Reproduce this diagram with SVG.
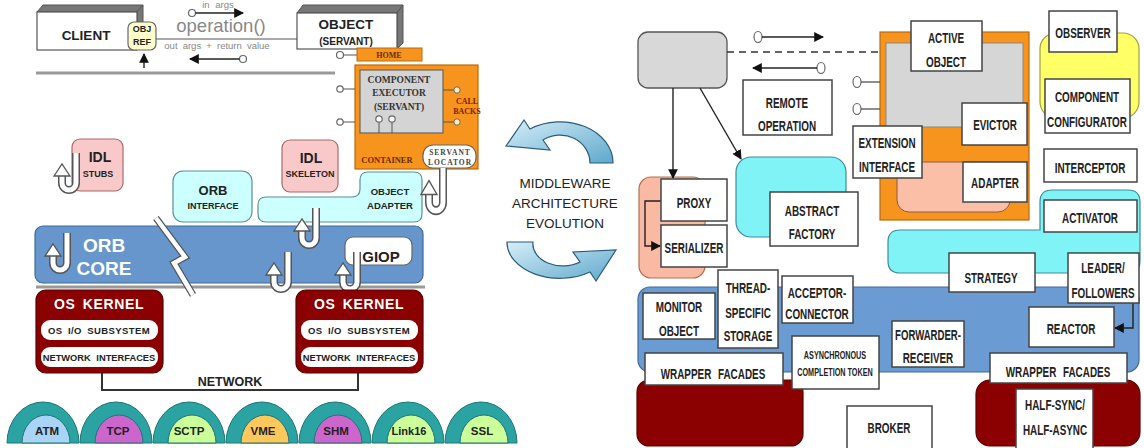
<svg xmlns="http://www.w3.org/2000/svg" width="1144" height="448" viewBox="0 0 1144 448">
<style>
.t{font-family:"Liberation Sans",Arial,sans-serif;font-weight:bold;text-anchor:middle;fill:#222}
.wt{font-family:"Liberation Sans",Arial,sans-serif;font-weight:bold;text-anchor:middle;fill:#fff}
.g{font-family:"Liberation Sans",Arial,sans-serif;text-anchor:middle;fill:#888}
.s{font-family:"Liberation Serif","Times New Roman",serif;font-weight:bold;text-anchor:middle}
.m{font-family:"Liberation Sans",Arial,sans-serif;font-size:13.5px;text-anchor:middle;fill:#222}
.rb{fill:#fff;stroke:#444;stroke-width:1.5}
.rt{font-family:"Liberation Sans",Arial,sans-serif;font-weight:bold;font-size:15px;text-anchor:middle;fill:#222}
.rs{font-family:"Liberation Sans",Arial,sans-serif;font-weight:bold;font-size:11px;text-anchor:middle;fill:#222}
.w{fill:#fff;stroke:#666;stroke-width:1.2}
.pink{fill:#f9c9c9;stroke:#a86a6a;stroke-width:1.2}
.cy{fill:#ccffff;stroke:#5f8f8f;stroke-width:1.2}
.ln{stroke:#222;stroke-width:1.4;fill:none}
.oc{fill:#fff;stroke:#666;stroke-width:1.2}
.dark{fill:#777;stroke:#555;stroke-width:1}
.ok{fill:#8b0000;stroke:#5a0000;stroke-width:1.2}
.dome{fill:#2ca3a3;stroke:#1d7575;stroke-width:1}
.ca{fill:url(#ag);stroke:#2a5c7a;stroke-width:1.2}
</style>
<defs>
<marker id="ah" viewBox="0 0 10 10" refX="9" refY="5" markerWidth="7" markerHeight="7" orient="auto-start-reverse"><path d="M0 0 L10 5 L0 10 Z" fill="#111"/></marker>
<linearGradient id="ag" x1="0" y1="0" x2="1" y2="1"><stop offset="0" stop-color="#d6eef8"/><stop offset="1" stop-color="#5ea8cc"/></linearGradient>
<g id="jh">
<path d="M0 0 V30 A7 7 0 0 1 -14 30 V22" fill="none" stroke="#555" stroke-width="8"/>
<path d="M0 0 V30 A7 7 0 0 1 -14 30 V22" fill="none" stroke="#fff" stroke-width="5"/>
<polygon points="-22,23 -14,11 -6,23" fill="#fff" stroke="#555" stroke-width="1.3"/>
</g>
</defs>
<rect width="1144" height="448" fill="#fff"/>

<!-- LEFT SIDE -->
<g id="connectors-left">
<line x1="156" y1="39" x2="297" y2="39" stroke="#555" stroke-width="1.2"/>
<line x1="144" y1="68" x2="144" y2="54" class="ln" marker-end="url(#ah)"/>
<circle cx="192" cy="13" r="3.5" class="oc"/>
<line x1="195.5" y1="13" x2="243" y2="13" class="ln" marker-end="url(#ah)"/>
<circle cx="243" cy="59" r="3.5" class="oc"/>
<line x1="239.5" y1="59" x2="190" y2="59" class="ln" marker-end="url(#ah)"/>
<line x1="36" y1="73" x2="335" y2="73" stroke="#999" stroke-width="3"/>
<line x1="36" y1="287" x2="425" y2="287" stroke="#999" stroke-width="3"/>
<polyline points="102,373 102,390 358,390 358,373" fill="none" stroke="#333" stroke-width="2"/>
</g>
<text class="g" x="218" y="8" font-size="9.5" word-spacing="3">in args</text>
<text class="g" x="221" y="32" font-size="18.5">operation()</text>
<text class="g" x="217" y="49" font-size="9.5" word-spacing="2.5">out args + return value</text>

<g id="client">
<polygon points="37,12 43,5 143,5 137,12" class="dark"/>
<polygon points="137,12 143,5 143,44 137,50" class="dark"/>
<rect x="37" y="12" width="100" height="38" fill="#fff" stroke="#555" stroke-width="1.2"/>
<text class="t" x="86" y="40" font-size="13.5">CLIENT</text>
</g>
<g id="objref">
<rect x="128" y="22" width="28" height="28" rx="6" fill="#ffffcc" stroke="#666" stroke-width="1.2"/>
<text class="t" x="142" y="32" font-size="9">OBJ</text>
<text class="t" x="142" y="45" font-size="9">REF</text>
</g>
<g id="object">
<polygon points="297,13 303,5 403,5 397,13" class="dark"/>
<polygon points="397,13 403,5 403,43 397,49" class="dark"/>
<rect x="297" y="13" width="100" height="36" fill="#fff" stroke="#555" stroke-width="1.2"/>
<text class="t" x="346" y="29" font-size="13.5">OBJECT</text>
<text class="t" x="346" y="45" font-size="10">(SERVANT)</text>
</g>
<g id="home">
<circle cx="340" cy="55" r="3.5" class="oc"/>
<line x1="343.5" y1="55" x2="357" y2="55" stroke="#555"/>
<rect x="357" y="48" width="65" height="13" fill="#f7941d" stroke="#b86a10"/>
<text class="s" x="389" y="58" font-size="8" fill="#6a2a00">HOME</text>
</g>
<g id="container">
<rect x="355" y="65" width="123" height="104" fill="#f7941d" stroke="#b86a10" stroke-width="1.2"/>
<rect x="360" y="70" width="83" height="63" fill="#d4d4d4" stroke="#666" stroke-width="1.2"/>
<text class="s" x="399" y="83" font-size="9.5" fill="#333">COMPONENT</text>
<text class="s" x="399" y="96" font-size="9.5" fill="#333">EXECUTOR</text>
<text class="s" x="399" y="110" font-size="9.5" fill="#333">(SERVANT)</text>
<line x1="379" y1="122" x2="379" y2="133" stroke="#555"/><circle cx="379" cy="119" r="3.2" class="oc"/>
<line x1="392" y1="122" x2="392" y2="133" stroke="#555"/><circle cx="392" cy="119" r="3.2" class="oc"/>
<line x1="443" y1="90" x2="454" y2="90" stroke="#555"/><circle cx="457" cy="90" r="3.2" fill="#ffe9b0" stroke="#666"/>
<line x1="443" y1="122" x2="454" y2="122" stroke="#555"/><circle cx="457" cy="122" r="3.2" fill="#ffe9b0" stroke="#666"/>
<text class="s" x="467" y="104" font-size="8" fill="#7a2200">CALL</text>
<text class="s" x="467" y="114" font-size="8" fill="#7a2200">BACKS</text>
<line x1="343" y1="89" x2="355" y2="89" stroke="#555"/><circle cx="340" cy="89" r="3.2" class="oc"/>
<line x1="343" y1="122" x2="355" y2="122" stroke="#555"/><circle cx="340" cy="122" r="3.2" class="oc"/>
<text class="s" x="387" y="163" font-size="8.5" fill="#6a2a00">CONTAINER</text>
</g>
<g id="servant-locator">
<rect x="423" y="145" width="53" height="23" rx="10" class="w"/>
<text class="s" x="450" y="155" font-size="7.5" fill="#444" letter-spacing="1">SERVANT</text>
<text class="s" x="450" y="165" font-size="7.5" fill="#444" letter-spacing="1">LOCATOR</text>
</g>
<g id="idl-stubs">
<rect x="72" y="139" width="51" height="52" rx="8" class="pink"/>
<text class="t" x="100" y="162" font-size="14">IDL</text>
<text class="t" x="98" y="177" font-size="9">STUBS</text>
</g>
<g id="idl-skeleton">
<rect x="282" y="140" width="56" height="52" rx="8" class="pink"/>
<text class="t" x="311" y="163" font-size="14">IDL</text>
<text class="t" x="310" y="177" font-size="9">SKELETON</text>
</g>
<g id="orb-interface">
<rect x="173" y="171" width="79" height="51" rx="10" class="cy"/>
<text class="t" x="213" y="195" font-size="13">ORB</text>
<text class="t" x="213" y="209" font-size="9">INTERFACE</text>
</g>
<g id="object-adapter">
<path d="M266 197 H352 Q360 197 360 189 V180 Q360 172 368 172 H414 Q422 172 422 180 V214 Q422 222 414 222 H266 Q258 222 258 214 V205 Q258 197 266 197 Z" class="cy"/>
<text class="t" x="390" y="195" font-size="9.5">OBJECT</text>
<text class="t" x="390" y="209" font-size="9.5">ADAPTER</text>
</g>
<g id="orb-core">
<rect x="35" y="226" width="388" height="57" rx="8" fill="#6696cc" stroke="#3f6a9c" stroke-width="1.2"/>
<text class="wt" x="104" y="252" font-size="19">ORB</text>
<text class="wt" x="104" y="275" font-size="19">CORE</text>
</g>
<polyline points="156,218 185,257 174,263 193,295" fill="none" stroke="#555" stroke-width="7"/>
<polyline points="156,218 185,257 174,263 193,295" fill="none" stroke="#fff" stroke-width="4.5"/>
<g id="giop">
<rect x="345" y="237" width="67" height="28" rx="8" class="w"/>
<text class="t" x="381" y="262" font-size="15" fill="#333">GIOP</text>
</g>
<g id="hooks">
<use href="#jh" transform="translate(76,153)"/>
<use href="#jh" transform="translate(67,233)"/>
<use href="#jh" transform="translate(316,208)"/>
<use href="#jh" transform="translate(288,252)"/>
<use href="#jh" transform="translate(357,252)"/>
<use href="#jh" transform="translate(443,168) scale(1,1.15)"/>
</g>
<g id="os-kernel-left">
<rect x="36" y="290" width="127" height="83" rx="10" class="ok"/>
<text class="wt" x="99" y="309" font-size="14" letter-spacing="0.6" word-spacing="3">OS KERNEL</text>
<rect x="41" y="320" width="117" height="20" rx="9" fill="#fff"/>
<text class="t" x="99" y="334" font-size="9.5" letter-spacing="0.4" word-spacing="2.5">OS I/O SUBSYSTEM</text>
<rect x="41" y="347" width="117" height="20" rx="9" fill="#fff"/>
<text class="t" x="99" y="361" font-size="9.3" word-spacing="3">NETWORK INTERFACES</text>
</g>
<g id="os-kernel-right">
<rect x="296" y="290" width="127" height="83" rx="10" class="ok"/>
<text class="wt" x="359" y="309" font-size="14" letter-spacing="0.6" word-spacing="3">OS KERNEL</text>
<rect x="301" y="320" width="117" height="20" rx="9" fill="#fff"/>
<text class="t" x="359" y="334" font-size="9.5" letter-spacing="0.4" word-spacing="2.5">OS I/O SUBSYSTEM</text>
<rect x="301" y="347" width="117" height="20" rx="9" fill="#fff"/>
<text class="t" x="359" y="361" font-size="9.3" word-spacing="3">NETWORK INTERFACES</text>
</g>
<text class="t" x="230" y="386" font-size="12.5" fill="#333">NETWORK</text>
<g id="transports">
<path d="M7 443 A36 41 0 0 1 79 443 Z" class="dome"/><path d="M22 443 A24 28 0 0 1 70 443 Z" fill="#a9d4f5" stroke="#1d7575"/>
<path d="M80 443 A36 41 0 0 1 152 443 Z" class="dome"/><path d="M95 443 A24 28 0 0 1 143 443 Z" fill="#cc66cc" stroke="#1d7575"/>
<path d="M153 443 A36 41 0 0 1 225 443 Z" class="dome"/><path d="M168 443 A24 28 0 0 1 216 443 Z" fill="#ccff99" stroke="#1d7575"/>
<path d="M226 443 A36 41 0 0 1 298 443 Z" class="dome"/><path d="M241 443 A24 28 0 0 1 289 443 Z" fill="#ffc85a" stroke="#1d7575"/>
<path d="M299 443 A36 41 0 0 1 371 443 Z" class="dome"/><path d="M314 443 A24 28 0 0 1 362 443 Z" fill="#cc66cc" stroke="#1d7575"/>
<path d="M372 443 A36 41 0 0 1 444 443 Z" class="dome"/><path d="M387 443 A24 28 0 0 1 435 443 Z" fill="#ccff99" stroke="#1d7575"/>
<path d="M445 443 A36 41 0 0 1 517 443 Z" class="dome"/><path d="M460 443 A24 28 0 0 1 508 443 Z" fill="#ccff99" stroke="#1d7575"/>
<text class="t" x="47" y="435" font-size="11.5" fill="#333">ATM</text>
<text class="t" x="118" y="435" font-size="11.5" fill="#333">TCP</text>
<text class="t" x="189" y="435" font-size="11.5" fill="#333">SCTP</text>
<text class="t" x="263" y="435" font-size="11.5" fill="#333">VME</text>
<text class="t" x="336" y="435" font-size="11.5" fill="#333">SHM</text>
<text class="t" x="409" y="435" font-size="11" fill="#333">Link16</text>
<text class="t" x="482" y="435" font-size="11.5" fill="#333">SSL</text>
</g>

<!-- MIDDLE -->
<g id="evolution">
<path d="M613 163 A53 41 0 0 0 530 129 L524 120 L506 146 L550 150 L543 140 A30 28 0 0 1 590 163 Z" class="ca"/>
<path d="M507 242 A53 36 0 0 0 590 272 L596 281 L616 250 L573 252 L580 262 A30 22 0 0 1 533 242 Z" class="ca"/>
<text class="m" x="565" y="188">MIDDLEWARE</text>
<text class="m" x="565" y="208">ARCHITECTURE</text>
<text class="m" x="565" y="228">EVOLUTION</text>
</g>

<!-- RIGHT SIDE -->
<g id="blue-layer"><rect x="638" y="287" width="501" height="85" rx="12" fill="#6a9bd3" stroke="#44699a" stroke-width="1.2"/></g>
<g id="cyan-layer"><path d="M1052 190 H1128 Q1140 190 1140 202 V261 Q1140 273 1128 273 H900 Q888 273 888 261 V242 Q888 230 900 230 H1040 V202 Q1040 190 1052 190 Z" fill="#7ff3f5" stroke="#3e8c98" stroke-width="1.2"/></g>
<g id="dark-red-left"><rect x="637" y="380" width="166" height="66" rx="12" class="ok"/></g>
<g id="dark-red-right"><rect x="976" y="380" width="164" height="66" rx="14" class="ok"/></g>
<g id="client-gray"><rect x="638" y="32" width="89" height="56" rx="10" fill="#d8d8d8" stroke="#555" stroke-width="1.3"/></g>
<g id="orange-box">
<rect x="880" y="32" width="149" height="188" fill="#f7941d" stroke="#b86a10" stroke-width="1.2"/>
<rect x="886" y="43" width="137" height="84" fill="#d6d6d6" stroke="#888"/>
<rect x="897" y="162" width="113" height="50" rx="12" fill="#fbbfa8" stroke="#8a5a4a"/>
</g>
<g id="yellow"><rect x="1040" y="33" width="99" height="85" rx="16" fill="#ffff66" stroke="#a0a040" stroke-width="1.2"/></g>
<g id="proxy-group"><rect x="639" y="177" width="66" height="101" rx="12" fill="#f9b9a3" stroke="#b07050" stroke-width="1.2"/></g>
<g id="factory-group"><rect x="736" y="157" width="110" height="80" rx="15" fill="#7ff3f5" stroke="#3e8c98" stroke-width="1.2"/></g>

<g id="connectors-right">
<line x1="727" y1="52" x2="880" y2="52" stroke="#333" stroke-width="1.3" stroke-dasharray="7,5"/>
<ellipse cx="758" cy="37" rx="4" ry="5.5" class="oc"/>
<line x1="762" y1="37" x2="823" y2="37" class="ln" marker-end="url(#ah)"/>
<ellipse cx="821" cy="68" rx="4" ry="5.5" class="oc"/>
<line x1="817" y1="68" x2="753" y2="68" class="ln" marker-end="url(#ah)"/>
<ellipse cx="857" cy="82" rx="4" ry="5.5" class="oc"/><line x1="861" y1="82" x2="880" y2="82" stroke="#444" stroke-width="1.2"/>
<ellipse cx="857" cy="109" rx="4" ry="5.5" class="oc"/><line x1="861" y1="109" x2="880" y2="109" stroke="#444" stroke-width="1.2"/>
<line x1="673" y1="88" x2="673" y2="178" class="ln" marker-end="url(#ah)"/>
<line x1="700" y1="88" x2="741" y2="159" class="ln" marker-end="url(#ah)"/>
<polyline points="661,201 645,201 645,246 660,246" class="ln" stroke-width="2" marker-end="url(#ah)"/>
<polyline points="1133,303 1133,328 1115,328" class="ln" stroke-width="2" marker-end="url(#ah)"/>
</g>

<g id="remote-operation"><rect x="743" y="80" width="89" height="55" class="rb"/>
<text class="rt" transform="translate(787,108) scale(.66,1)">REMOTE</text>
<text class="rt" transform="translate(787,131) scale(.66,1)">OPERATION</text></g>
<g id="active-object"><rect x="911" y="21" width="71" height="50" class="rb"/>
<text class="rt" transform="translate(946,43) scale(.66,1)">ACTIVE</text>
<text class="rt" transform="translate(946,67) scale(.66,1)">OBJECT</text></g>
<g id="evictor"><rect x="962" y="103" width="65" height="42" class="rb"/>
<text class="rt" transform="translate(995,130) scale(.66,1)">EVICTOR</text></g>
<g id="extension-interface"><rect x="853" y="126" width="69" height="52" class="rb"/>
<text class="rt" transform="translate(887,148) scale(.66,1)">EXTENSION</text>
<text class="rt" transform="translate(887,172) scale(.66,1)">INTERFACE</text></g>
<g id="adapter"><rect x="963" y="162" width="64" height="40" class="rb"/>
<text class="rt" transform="translate(995,188) scale(.66,1)">ADAPTER</text></g>
<g id="observer"><rect x="1049" y="11" width="68" height="41" class="rb"/>
<text class="rt" transform="translate(1083,38) scale(.66,1)">OBSERVER</text></g>
<g id="component-configurator"><rect x="1045" y="79" width="85" height="54" class="rb"/>
<text class="rt" transform="translate(1087,102) scale(.66,1)">COMPONENT</text>
<text class="rt" transform="translate(1087,127) scale(.66,1)">CONFIGURATOR</text></g>
<g id="interceptor"><rect x="1044" y="149" width="93" height="33" class="rb"/>
<text class="rt" transform="translate(1090,173) scale(.66,1)">INTERCEPTOR</text></g>
<g id="activator"><rect x="1044" y="200" width="93" height="32" class="rb"/>
<text class="rt" transform="translate(1090,223) scale(.66,1)">ACTIVATOR</text></g>
<g id="strategy"><rect x="949" y="253" width="86" height="39" class="rb"/>
<text class="rt" transform="translate(991,283) scale(.66,1)">STRATEGY</text></g>
<g id="leader-followers"><rect x="1068" y="253" width="71" height="50" class="rb"/>
<text class="rt" transform="translate(1103,273) scale(.66,1)">LEADER/</text>
<text class="rt" transform="translate(1103,298) scale(.66,1)">FOLLOWERS</text></g>
<g id="proxy"><rect x="661" y="179" width="66" height="42" class="rb"/>
<text class="rt" transform="translate(694,208) scale(.66,1)">PROXY</text></g>
<g id="serializer"><rect x="661" y="225" width="66" height="42" class="rb"/>
<text class="rt" transform="translate(694,253) scale(.66,1)">SERIALIZER</text></g>
<g id="abstract-factory"><rect x="770" y="192" width="88" height="54" class="rb"/>
<text class="rt" transform="translate(812,216) scale(.66,1)">ABSTRACT</text>
<text class="rt" transform="translate(812,239) scale(.66,1)">FACTORY</text></g>
<g id="monitor-object"><rect x="643" y="293" width="72" height="46" class="rb"/>
<text class="rt" transform="translate(679,312) scale(.66,1)">MONITOR</text>
<text class="rt" transform="translate(679,336) scale(.66,1)">OBJECT</text></g>
<g id="thread-specific-storage"><rect x="718" y="270" width="60" height="78" class="rb"/>
<text class="rt" transform="translate(748,293) scale(.66,1)">THREAD-</text>
<text class="rt" transform="translate(748,318) scale(.66,1)">SPECIFIC</text>
<text class="rt" transform="translate(748,341) scale(.66,1)">STORAGE</text></g>
<g id="acceptor-connector"><rect x="782" y="276" width="71" height="47" class="rb"/>
<text class="rt" transform="translate(817,298) scale(.66,1)">ACCEPTOR-</text>
<text class="rt" transform="translate(817,319) scale(.66,1)">CONNECTOR</text></g>
<g id="forwarder-receiver"><rect x="892" y="321" width="72" height="46" class="rb"/>
<text class="rt" transform="translate(928,340) scale(.64,1)">FORWARDER-</text>
<text class="rt" transform="translate(928,363) scale(.66,1)">RECEIVER</text></g>
<g id="reactor"><rect x="1029" y="307" width="85" height="40" class="rb"/>
<text class="rt" transform="translate(1071,334) scale(.66,1)">REACTOR</text></g>
<g id="async-completion-token"><rect x="792" y="336" width="87" height="53" class="rb"/>
<text class="rs" transform="translate(835,359) scale(.66,1)">ASYNCHRONOUS</text>
<text class="rs" transform="translate(835,376) scale(.66,1)">COMPLETION TOKEN</text></g>
<g id="wrapper-facades-left"><rect x="645" y="353" width="138" height="32" class="rb"/>
<text class="rt" transform="translate(713,379) scale(.66,1)" word-spacing="6">WRAPPER FACADES</text></g>
<g id="wrapper-facades-right"><rect x="990" y="353" width="137" height="30" class="rb"/>
<text class="rt" transform="translate(1058,377) scale(.66,1)" word-spacing="6">WRAPPER FACADES</text></g>
<g id="broker"><rect x="847" y="406" width="85" height="45" class="rb"/>
<text class="rt" transform="translate(889,433) scale(.66,1)">BROKER</text></g>
<g id="half-sync-half-async"><rect x="1016" y="389" width="77" height="60" class="rb"/>
<text class="rt" transform="translate(1055,410) scale(.66,1)">HALF-SYNC/</text>
<text class="rt" transform="translate(1055,435) scale(.66,1)">HALF-ASYNC</text></g>
</svg>
